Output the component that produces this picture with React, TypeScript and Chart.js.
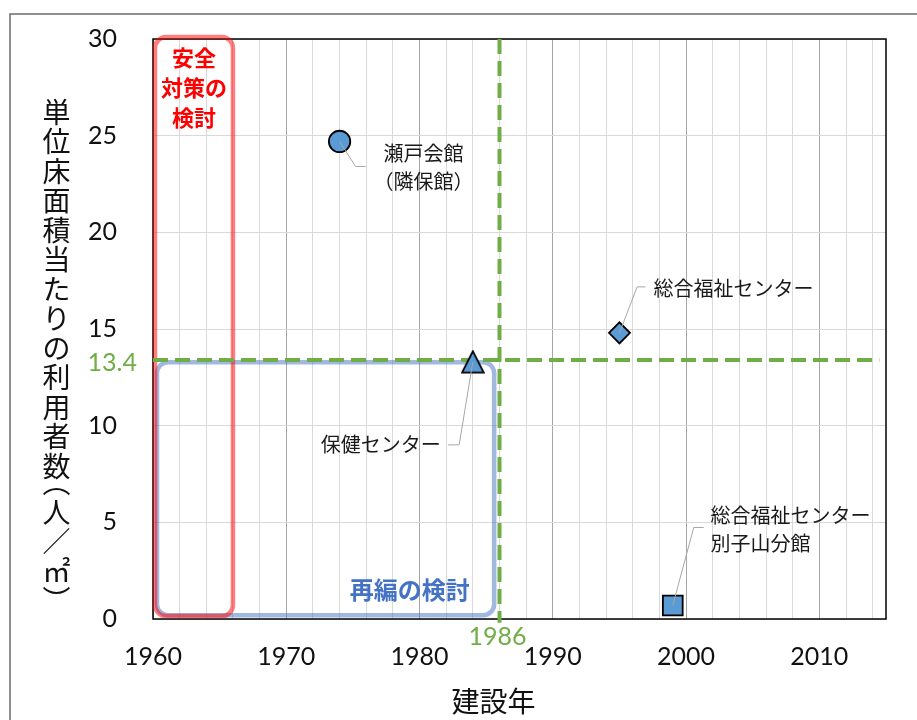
import React, { useEffect, useRef } from "react";
import { Chart, registerables } from "chart.js";

Chart.register(...registerables);

// ---- data ----
const FACILITY_NAMES = ["瀬戸会館\n（隣保館）", "総合福祉センター", "保健センター", "総合福祉センター\n別子山分館"];
const BUILD_YEARS = [1974, 1995, 1984, 1999];
const USERS_PER_M2 = [24.7, 14.8, 13.3, 0.7];

const X_TICK_LABELS = [1960, 1970, 1980, 1990, 2000, 2010];
const X_MIN = 1960;
const X_MAX = 2015;
const X_MINOR_STEP = 2;
const Y_MIN = 0;
const Y_MAX = 30;
const Y_STEP = 5;

const THRESHOLD_YEAR = 1986;
const THRESHOLD_USERS = 13.4;
const THRESHOLD_LINE_END_YEAR = 2014.5;

const Y_TITLE_CHARS = ["単", "位", "床", "面", "積", "当", "た", "り", "の", "利", "用", "者", "数", "︵", "人", "／", "㎡", "︶"];
const X_TITLE = "建設年";
const SAFETY_TEXT = ["安全", "対策の", "検討"];
const REORG_TEXT = "再編の検討";

// annotation regions (data coordinates)
const SAFETY_BOX = { x0: 1960.15, x1: 1966.0, y0: 0.15, y1: 30.1 };
const REORG_BOX = { x0: 1960.3, x1: 1985.6, y0: 0.2, y1: 13.28 };

// label layout (pixel offsets from each marker)
const LABEL_LAYOUT = [
  { align: "center", dx: 84, dy: 11.6, leader: [[16, 25], [26, 25]] },
  { align: "left", dx: 34, dy: -44.6, leader: [[17.7, -46], [26, -46]] },
  { align: "right", dx: -32, dy: 83, leader: [[-13.7, 83], [-24.7, 83]] },
  { align: "left", dx: 37.7, dy: -90.5, leader: [[21, -78], [31, -78]] },
];

const NUM_FONT = "Lato, 'Noto Sans CJK JP', sans-serif";
const JP_FONT = "'Noto Sans CJK JP', sans-serif";
const MARKER_FILL = "#5B9BD5";
const GREEN = "#70AD47";

function makeTriangle(): HTMLCanvasElement {
  const c = document.createElement("canvas");
  c.width = 24;
  c.height = 24;
  const g = c.getContext("2d")!;
  g.beginPath();
  g.moveTo(12, 1.3);
  g.lineTo(22.8, 22.6);
  g.lineTo(1.2, 22.6);
  g.closePath();
  g.fillStyle = MARKER_FILL;
  g.fill();
  g.lineWidth = 1.8;
  g.strokeStyle = "#000";
  g.lineJoin = "miter";
  g.stroke();
  return c;
}

const decorPlugin = {
  id: "decor",
  beforeDatasetsDraw(chart: any) {
    const { ctx, chartArea: a, scales } = chart;
    const x = scales.x;
    const y = scales.y;
    ctx.save();
    // plot border
    ctx.strokeStyle = "#000";
    ctx.lineWidth = 1.5;
    ctx.strokeRect(a.left, a.top, a.right - a.left, a.bottom - a.top);

    // y tick labels (from the scale's ticks)
    ctx.fillStyle = "#111";
    ctx.font = `25px ${NUM_FONT}`;
    ctx.textAlign = "right";
    ctx.textBaseline = "middle";
    y.ticks.forEach((t: any) => {
      ctx.fillText(String(t.value), a.left - 36, y.getPixelForValue(t.value));
    });

    // reorg (blue) box
    const bx0 = x.getPixelForValue(REORG_BOX.x0);
    const bx1 = x.getPixelForValue(REORG_BOX.x1);
    const by0 = y.getPixelForValue(REORG_BOX.y1);
    const by1 = y.getPixelForValue(REORG_BOX.y0);
    ctx.beginPath();
    ctx.roundRect(bx0, by0, bx1 - bx0, by1 - by0, 11);
    ctx.strokeStyle = "rgba(68,114,196,0.5)";
    ctx.lineWidth = 4.5;
    ctx.stroke();

    // safety (red) box
    const rx0 = x.getPixelForValue(SAFETY_BOX.x0);
    const rx1 = x.getPixelForValue(SAFETY_BOX.x1);
    const ry0 = y.getPixelForValue(SAFETY_BOX.y1);
    const ry1 = y.getPixelForValue(SAFETY_BOX.y0);
    ctx.beginPath();
    ctx.roundRect(rx0, ry0, rx1 - rx0, ry1 - ry0, 11);
    ctx.strokeStyle = "rgba(255,0,0,0.5)";
    ctx.lineWidth = 4.5;
    ctx.stroke();

    // box texts
    ctx.textAlign = "center";
    ctx.textBaseline = "middle";
    ctx.fillStyle = "#FF0000";
    ctx.font = `bold 22px ${JP_FONT}`;
    const rcx = (rx0 + rx1) / 2;
    SAFETY_TEXT.forEach((t, i) => ctx.fillText(t, rcx, ry0 + 21 + i * 30));

    ctx.fillStyle = "#4472C4";
    ctx.font = `bold 24px ${JP_FONT}`;
    ctx.fillText(REORG_TEXT, bx1 - 84.5, by1 - 25);
    ctx.restore();
  },
  afterDatasetsDraw(chart: any) {
    const { ctx, chartArea: a, scales } = chart;
    const x = scales.x;
    const y = scales.y;
    ctx.save();
    // leaders + labels
    BUILD_YEARS.forEach((yr, i) => {
      const px = x.getPixelForValue(yr);
      const py = y.getPixelForValue(USERS_PER_M2[i]);
      const L = LABEL_LAYOUT[i];
      ctx.beginPath();
      ctx.moveTo(px, py);
      L.leader.forEach(([dx, dy]) => ctx.lineTo(px + dx, py + dy));
      ctx.strokeStyle = "#A6A6A6";
      ctx.lineWidth = 1;
      ctx.stroke();
      ctx.fillStyle = "#1a1a1a";
      ctx.font = `20px ${JP_FONT}`;
      ctx.textAlign = L.align;
      ctx.textBaseline = "middle";
      FACILITY_NAMES[i].split("\n").forEach((line, j) => {
        ctx.fillText(line, px + L.dx, py + L.dy + j * 28);
      });
    });

    // threshold labels
    ctx.fillStyle = GREEN;
    ctx.font = `25px ${NUM_FONT}`;
    ctx.textBaseline = "middle";
    ctx.textAlign = "right";
    ctx.fillText(String(THRESHOLD_USERS), a.left - 16, y.getPixelForValue(THRESHOLD_USERS) + 3);
    ctx.textAlign = "center";
    ctx.fillText(String(THRESHOLD_YEAR), x.getPixelForValue(THRESHOLD_YEAR) - 2, a.bottom + 18);

    // y title (stacked vertical)
    ctx.fillStyle = "#111";
    ctx.font = `28px ${JP_FONT}`;
    ctx.textAlign = "center";
    ctx.textBaseline = "middle";
    let cy = 112;
    const yt = [] as number[];
    Y_TITLE_CHARS.forEach((ch, i) => {
      if (i > 0) {
        const prev = Y_TITLE_CHARS[i - 1];
        if (ch === "︵" || prev === "︵") cy += 23;
        else if (ch === "︶") cy += 22;
        else cy += 29.5;
      }
      yt.push(cy);
    });
    Y_TITLE_CHARS.forEach((ch, i) => {
      let off = 0;
      if (ch === "︵") off = -7;
      if (ch === "︶") off = 7;
      ctx.fillText(ch, 56.5, yt[i] + off);
    });

    // x title
    ctx.font = `28px ${JP_FONT}`;
    ctx.fillText(X_TITLE, 493.5, 701);

    // outer frame
    ctx.strokeStyle = "#6b6b6b";
    ctx.lineWidth = 1.5;
    ctx.strokeRect(10, 14, 2000, 2000);
    ctx.restore();
  },
};

export default function App() {
  const ref = useRef<HTMLCanvasElement | null>(null);
  useEffect(() => {
    if (!ref.current) return;
    const tri = makeTriangle();
    const chart = new Chart(ref.current, {
      type: "scatter",
      data: {
        datasets: [
          {
            label: "施設",
            data: BUILD_YEARS.map((yr, i) => ({ x: yr, y: USERS_PER_M2[i] })),
            pointStyle: ["circle", "rectRot", tri, "rect"] as any,
            pointRadius: [10.7, 10.5, 12, 14],
            pointBackgroundColor: MARKER_FILL,
            pointBorderColor: "#000",
            pointBorderWidth: 1.8,
            showLine: false,
          },
          {
            label: "year",
            data: [
              { x: THRESHOLD_YEAR, y: Y_MAX },
              { x: THRESHOLD_YEAR, y: -0.2 },
            ],
            showLine: true,
            borderColor: GREEN,
            borderWidth: 4,
            borderDash: [15, 7],
            pointRadius: 0,
            clip: false as any,
          },
          {
            label: "users",
            data: [
              { x: X_MIN, y: THRESHOLD_USERS },
              { x: THRESHOLD_LINE_END_YEAR, y: THRESHOLD_USERS },
            ],
            showLine: true,
            borderColor: GREEN,
            borderWidth: 4,
            borderDash: [15, 7],
            pointRadius: 0,
            clip: false as any,
          },
        ],
      },
      options: {
        animation: false,
        responsive: false,
        devicePixelRatio: 1,
        layout: { padding: { top: 39, right: 31, left: 0, bottom: 0 } },
        plugins: { legend: { display: false }, tooltip: { enabled: false } },
        scales: {
          x: {
            type: "linear",
            min: X_MIN,
            max: X_MAX,
            afterBuildTicks: (scale: any) => {
              const t = [];
              for (let v = X_MIN; v < X_MAX; v += X_MINOR_STEP) t.push({ value: v });
              scale.ticks = t;
            },
            afterFit: (scale: any) => {
              scale.height = 101;
            },
            ticks: {
              autoSkip: false,
              maxRotation: 0,
              padding: 23,
              color: "#111",
              font: { family: NUM_FONT, size: 25 },
              callback: (v: any) => (X_TICK_LABELS.includes(Number(v)) ? String(v) : ""),
            },
            grid: {
              drawTicks: false,
              color: (c: any) => (c.tick && c.tick.value % 10 === 0 ? "#A6A6A6" : "#D9D9D9"),
              lineWidth: 1,
            },
            border: { display: false },
          },
          y: {
            type: "linear",
            min: Y_MIN,
            max: Y_MAX,
            afterFit: (scale: any) => {
              scale.width = 153;
            },
            ticks: {
              stepSize: Y_STEP,
              display: false,
              padding: 0,
            },
            grid: { drawTicks: false, color: "#D9D9D9", lineWidth: 1 },
            border: { display: false },
          },
        },
      },
      plugins: [decorPlugin],
    } as any);
    return () => chart.destroy();
  }, []);
  return (
    <canvas
      ref={ref}
      width={917}
      height={720}
      style={{ position: "fixed", left: 0, top: 0, width: 917, height: 720, background: "#fff" }}
    />
  );
}
